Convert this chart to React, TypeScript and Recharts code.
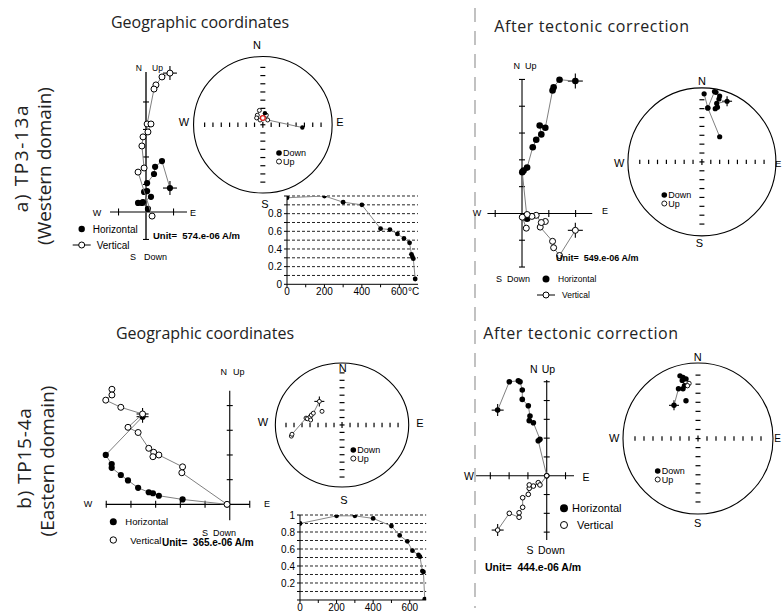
import React from 'react';
import {
  ScatterChart,
  Scatter,
  XAxis,
  YAxis,
  ReferenceLine,
  ReferenceDot,
  LineChart,
  Line,
} from 'recharts';

type Pt = { x: number; y: number };
type NetPt = { x: number; y: number; down: boolean };

// ============================================================================
// Data: Zijderveld values in axis-tick units, stereonet values in radius units
// ============================================================================

// a) TP3-13a, geographic coordinates
const aGeoHoriz: Pt[] = [
  { x: 0.87, y: 0.87 },
  { x: 0.58, y: 1.85 },
  { x: 0.33, y: 1.64 },
  { x: 0.29, y: 1.38 },
  { x: 0.04, y: 1.05 },
  { x: -0.07, y: 0.73 },
  { x: 0.04, y: 0.76 },
  { x: 0.18, y: 0.55 },
  { x: -0.11, y: 0.36 },
  { x: -0.29, y: 0.33 },
  { x: -0.15, y: 0.33 },
  { x: 0.07, y: 0.11 },
];
const aGeoVert: Pt[] = [
  { x: 0.87, y: 5.05 },
  { x: 0.58, y: 4.91 },
  { x: 0.36, y: 4.62 },
  { x: 0.29, y: 4.47 },
  { x: 0.04, y: 3.2 },
  { x: 0.18, y: 3.2 },
  { x: 0.07, y: 2.91 },
  { x: -0.11, y: 2.73 },
  { x: -0.15, y: 2.4 },
  { x: -0.07, y: 1.6 },
  { x: -0.29, y: 1.45 },
  { x: 0.22, y: -0.15 },
];
const aGeoXTicks = [-1, 1];
const aGeoYTicks = [-1, 1, 2, 3, 4];

// a) TP3-13a, after tectonic correction
const aTiltHoriz: Pt[] = [
  { x: 1.99, y: 4.94 },
  { x: 1.4, y: 4.99 },
  { x: 1.18, y: 4.71 },
  { x: 1.14, y: 4.59 },
  { x: 0.87, y: 3.2 },
  { x: 0.66, y: 3.28 },
  { x: 0.72, y: 2.95 },
  { x: 0.53, y: 2.75 },
  { x: 0.4, y: 2.47 },
  { x: 0.19, y: 1.71 },
  { x: 0.06, y: 1.6 },
  { x: 0.01, y: 1.54 },
  { x: 0.19, y: -0.2 },
];
const aTiltVert: Pt[] = [
  { x: 1.99, y: -0.63 },
  { x: 1.4, y: -1.57 },
  { x: 1.18, y: -1.28 },
  { x: 1.14, y: -1.04 },
  { x: 0.68, y: -0.51 },
  { x: 0.87, y: -0.3 },
  { x: 0.72, y: -0.34 },
  { x: 0.53, y: -0.07 },
  { x: 0.37, y: -0.11 },
  { x: 0.19, y: -0.04 },
  { x: 0.01, y: -0.14 },
  { x: 0.16, y: -0.55 },
];
const aTiltXTicks = [-1, 1, 2];
const aTiltYTicks = [-2, -1, 1, 2, 3, 4, 5];

// b) TP15-4a, geographic coordinates
const bGeoHoriz: Pt[] = [
  { x: -3.53, y: 3.55 },
  { x: -5.02, y: 2.0 },
  { x: -4.78, y: 1.63 },
  { x: -4.78, y: 1.48 },
  { x: -4.41, y: 1.19 },
  { x: -4.12, y: 0.97 },
  { x: -3.71, y: 0.67 },
  { x: -3.28, y: 0.49 },
  { x: -3.11, y: 0.45 },
  { x: -2.87, y: 0.35 },
  { x: -1.91, y: 0.2 },
  { x: -0.11, y: 0 },
];
const bGeoVert: Pt[] = [
  { x: -4.77, y: 4.66 },
  { x: -4.77, y: 4.43 },
  { x: -5.02, y: 4.22 },
  { x: -4.41, y: 3.93 },
  { x: -3.53, y: 3.66 },
  { x: -4.12, y: 3.12 },
  { x: -3.71, y: 2.91 },
  { x: -3.28, y: 2.27 },
  { x: -3.08, y: 2.11 },
  { x: -3.11, y: 1.93 },
  { x: -2.87, y: 2.0 },
  { x: -1.91, y: 1.52 },
  { x: -1.94, y: 1.28 },
  { x: -0.11, y: 0 },
];
const bGeoVertNrm = 4;
const bGeoXTicks = [-5, -4, -3, -2, -1, 0.81];
const bGeoYTicks = [1, 2, 3, 4];

// b) TP15-4a, after tectonic correction
const bTiltHoriz: Pt[] = [
  { x: -2.61, y: 3.49 },
  { x: -1.99, y: 5.0 },
  { x: -1.51, y: 5.05 },
  { x: -1.42, y: 5.0 },
  { x: -1.3, y: 4.56 },
  { x: -1.3, y: 4.06 },
  { x: -0.98, y: 3.72 },
  { x: -0.89, y: 3.18 },
  { x: -0.93, y: 2.93 },
  { x: -0.71, y: 2.82 },
  { x: -0.36, y: 1.94 },
  { x: -0.45, y: 1.86 },
  { x: 0, y: 0 },
];
const bTiltVert: Pt[] = [
  { x: -2.61, y: -2.89 },
  { x: -1.99, y: -2.0 },
  { x: -1.47, y: -2.21 },
  { x: -1.47, y: -1.97 },
  { x: -1.28, y: -1.68 },
  { x: -1.28, y: -1.17 },
  { x: -0.98, y: -0.99 },
  { x: -0.93, y: -0.67 },
  { x: -0.93, y: -0.49 },
  { x: -0.71, y: -0.55 },
  { x: -0.45, y: -0.37 },
  { x: -0.36, y: -0.49 },
  { x: 0, y: 0 },
];
const bTiltXTicks = [-3, -2, -1, 1];
const bTiltYTicks = [-3, -2, -1, 1, 2, 3, 4, 5];

// stereonets (equal area)
const netTicks = [0.12, 0.24, 0.36, 0.48, 0.6, 0.72, 0.84];

const aGeoNetPaths: NetPt[][] = [
  [
    { x: -0.05, y: 0.21, down: false },
    { x: -0.08, y: 0.14, down: false },
    { x: -0.09, y: 0.1, down: false },
    { x: -0.04, y: 0.07, down: false },
    { x: 0.0, y: 0.1, down: false },
    { x: 0.05, y: 0.14, down: false },
    { x: 0.07, y: 0.07, down: false },
    { x: 0.57, y: -0.04, down: true },
  ],
];
const aGeoNetLoose: NetPt[] = [{ x: 0.03, y: 0.17, down: true }];
const aGeoNetRed: Pt[] = [{ x: 0.0, y: 0.1 }];

const aTiltNetPaths: NetPt[][] = [
  [
    { x: 0.24, y: 0.34, down: true },
    { x: 0.08, y: 0.73, down: true },
    { x: 0.03, y: 0.92, down: true },
  ],
  [
    { x: 0.34, y: 0.82, down: true },
    { x: 0.2, y: 0.79, down: true },
    { x: 0.21, y: 0.74, down: true },
    { x: 0.18, y: 0.72, down: true },
    { x: 0.23, y: 0.85, down: true },
    { x: 0.24, y: 0.89, down: true },
    { x: 0.19, y: 0.94, down: true },
    { x: 0.17, y: 0.95, down: true },
    { x: 0.08, y: 0.73, down: true },
  ],
];
const aTiltNetCross: Pt[] = [{ x: 0.34, y: 0.82 }];

const bGeoNetPaths: NetPt[][] = [
  [
    { x: -0.76, y: -0.18, down: false },
    { x: -0.75, y: -0.15, down: false },
    { x: -0.54, y: 0.11, down: false },
    { x: -0.52, y: 0.1, down: false },
    { x: -0.48, y: 0.13, down: false },
    { x: -0.47, y: 0.08, down: false },
    { x: -0.46, y: 0.16, down: false },
    { x: -0.43, y: 0.19, down: false },
    { x: -0.34, y: 0.38, down: false },
  ],
];
const bGeoNetLoose: NetPt[] = [{ x: -0.3, y: 0.22, down: false }];
const bGeoNetCross: Pt[] = [{ x: -0.34, y: 0.38 }];

const bTiltNetPaths: NetPt[][] = [
  [
    { x: -0.32, y: 0.44, down: true },
    { x: -0.26, y: 0.66, down: true },
    { x: -0.2, y: 0.66, down: true },
    { x: -0.18, y: 0.7, down: true },
    { x: -0.21, y: 0.77, down: true },
    { x: -0.24, y: 0.83, down: true },
    { x: -0.2, y: 0.81, down: true },
    { x: -0.16, y: 0.79, down: true },
    { x: -0.12, y: 0.73, down: false },
    { x: -0.14, y: 0.7, down: false },
  ],
];
const bTiltNetLoose: NetPt[] = [{ x: -0.16, y: 0.5, down: true }];
const bTiltNetCross: Pt[] = [{ x: -0.32, y: 0.44 }];

// normalised intensity vs. temperature
const aDemagTemp = [0, 200, 300, 400, 500, 550, 590, 625, 655, 665, 670, 675, 685];
const aDemagM = [0.98, 1.0, 0.93, 0.9, 0.63, 0.62, 0.57, 0.52, 0.47, 0.34, 0.31, 0.29, 0.06];
const bDemagTemp = [0, 200, 300, 400, 500, 545, 587, 615, 648, 656, 669, 675, 682];
const bDemagM = [0.9, 0.99, 0.99, 0.96, 0.87, 0.76, 0.69, 0.58, 0.53, 0.51, 0.34, 0.33, 0.01];
const tempTicks = [0, 100, 200, 300, 400, 500, 600];
const intensityTicks = [0, 0.1, 0.2, 0.3, 0.4, 0.5, 0.6, 0.7, 0.8, 0.9, 1];
const gridLevels = [0.1, 0.2, 0.3, 0.4, 0.5, 0.6, 0.7, 0.8, 0.9, 1];

const FONT = '"Liberation Sans", Arial, Helvetica, sans-serif';
const TFONT = '"Open Sans", "Noto Sans", sans-serif';

// ============================================================================
// Zijderveld diagram
// ============================================================================

interface ZijProps {
  ox: number;
  oy: number;
  s: number;
  xExt: [number, number];
  yExt: [number, number];
  xTicks: number[];
  yTicks: number[];
  horiz: Pt[];
  vert: Pt[];
  vNrm?: number;
  dotR: number;
  openR: number;
  arm: number;
  vAxisColor?: string;
  vAxisWidth?: number;
}

function Zijderveld(p: ZijProps) {
  const pad = 0.8;
  const x0 = p.xExt[0] - pad;
  const x1 = p.xExt[1] + pad;
  const y0 = p.yExt[0] - pad;
  const y1 = p.yExt[1] + pad;

  const cross = (q: any) => (
    <g>
      <line x1={q.cx - p.arm} x2={q.cx + p.arm} y1={q.cy} y2={q.cy} stroke="#000" strokeWidth={1.1} />
      <line x1={q.cx} x2={q.cx} y1={q.cy - p.arm} y2={q.cy + p.arm} stroke="#000" strokeWidth={1.1} />
    </g>
  );

  return (
    <div style={{ position: 'absolute', left: p.ox + x0 * p.s, top: p.oy - y1 * p.s }}>
      <ScatterChart
        width={(x1 - x0) * p.s}
        height={(y1 - y0) * p.s}
        margin={{ top: 0, right: 0, bottom: 0, left: 0 }}
      >
        <XAxis type="number" dataKey="x" domain={[x0, x1]} hide />
        <YAxis type="number" dataKey="y" domain={[y0, y1]} hide />
        <ReferenceLine
          segment={[{ x: p.xExt[0], y: 0 }, { x: p.xExt[1], y: 0 }]}
          stroke="#000"
          strokeWidth={1.1}
        />
        <ReferenceLine
          segment={[{ x: 0, y: p.yExt[0] }, { x: 0, y: p.yExt[1] }]}
          stroke={p.vAxisColor ?? '#000'}
          strokeWidth={p.vAxisWidth ?? 1.1}
        />
        <Scatter
          data={p.xTicks.map((x) => ({ x, y: 0 }))}
          isAnimationActive={false}
          shape={(q: any) => (
            <line x1={q.cx} x2={q.cx} y1={q.cy - 3.5} y2={q.cy + 3.5} stroke="#000" strokeWidth={1.1} />
          )}
        />
        <Scatter
          data={p.yTicks.map((y) => ({ x: 0, y }))}
          isAnimationActive={false}
          shape={(q: any) => (
            <line x1={q.cx - 3} x2={q.cx + 3} y1={q.cy} y2={q.cy} stroke="#000" strokeWidth={1.1} />
          )}
        />
        <Scatter data={[p.horiz[0]]} isAnimationActive={false} shape={cross} />
        <Scatter
          name="Horizontal"
          data={p.horiz}
          isAnimationActive={false}
          line={{ stroke: '#808080', strokeWidth: 1 }}
          shape={(q: any) => <circle cx={q.cx} cy={q.cy} r={p.dotR} fill="#000" />}
        />
        <Scatter data={[p.vert[p.vNrm ?? 0]]} isAnimationActive={false} shape={cross} />
        <Scatter
          name="Vertical"
          data={p.vert}
          isAnimationActive={false}
          line={{ stroke: '#808080', strokeWidth: 1 }}
          shape={(q: any) => (
            <circle cx={q.cx} cy={q.cy} r={p.openR} fill="#fff" stroke="#000" strokeWidth={1} />
          )}
        />
      </ScatterChart>
    </div>
  );
}

// ============================================================================
// Equal-area stereonet
// ============================================================================

interface NetProps {
  cx: number;
  cy: number;
  rx: number;
  ry: number;
  paths: NetPt[][];
  loose: NetPt[];
  crossAt?: Pt[];
  red?: Pt[];
  dotR: number;
  openR: number;
}

function Stereonet(p: NetProps) {
  const k = 1.08;
  const mark = (q: any) =>
    q.payload.down ? (
      <circle cx={q.cx} cy={q.cy} r={p.dotR} fill="#000" />
    ) : (
      <circle cx={q.cx} cy={q.cy} r={p.openR} fill="#fff" stroke="#000" strokeWidth={0.9} />
    );

  return (
    <div style={{ position: 'absolute', left: p.cx - p.rx * k, top: p.cy - p.ry * k }}>
      <ScatterChart
        width={2 * p.rx * k}
        height={2 * p.ry * k}
        margin={{ top: 0, right: 0, bottom: 0, left: 0 }}
      >
        <XAxis type="number" dataKey="x" domain={[-k, k]} hide />
        <YAxis type="number" dataKey="y" domain={[-k, k]} hide />
        <ReferenceDot
          x={0}
          y={0}
          shape={(q: any) => (
            <ellipse cx={q.cx} cy={q.cy} rx={p.rx} ry={p.ry} fill="none" stroke="#000" strokeWidth={1.1} />
          )}
        />
        <Scatter
          data={netTicks.flatMap((t) => [{ x: t, y: 0 }, { x: -t, y: 0 }])}
          isAnimationActive={false}
          shape={(q: any) => (
            <line x1={q.cx} x2={q.cx} y1={q.cy - 2.2} y2={q.cy + 2.2} stroke="#000" strokeWidth={1.2} />
          )}
        />
        <Scatter
          data={netTicks.flatMap((t) => [{ x: 0, y: t }, { x: 0, y: -t }])}
          isAnimationActive={false}
          shape={(q: any) => (
            <line x1={q.cx - 2.5} x2={q.cx + 2.5} y1={q.cy} y2={q.cy} stroke="#000" strokeWidth={1.2} />
          )}
        />
        <Scatter
          data={[{ x: 0, y: 0 }]}
          isAnimationActive={false}
          shape={(q: any) => (
            <g>
              <line x1={q.cx - 2.5} x2={q.cx + 2.5} y1={q.cy} y2={q.cy} stroke="#000" strokeWidth={1.2} />
              <line x1={q.cx} x2={q.cx} y1={q.cy - 3} y2={q.cy + 3} stroke="#000" strokeWidth={1.2} />
            </g>
          )}
        />
        {(p.crossAt ?? []).length > 0 && (
          <Scatter
            data={p.crossAt}
            isAnimationActive={false}
            shape={(q: any) => (
              <g>
                <line x1={q.cx - 5} x2={q.cx + 5} y1={q.cy} y2={q.cy} stroke="#000" strokeWidth={1.1} />
                <line x1={q.cx} x2={q.cx} y1={q.cy - 5} y2={q.cy + 5} stroke="#000" strokeWidth={1.1} />
              </g>
            )}
          />
        )}
        {p.paths.map((path, i) => (
          <Scatter
            key={i}
            data={path}
            isAnimationActive={false}
            line={{ stroke: '#808080', strokeWidth: 1 }}
            shape={mark}
          />
        ))}
        <Scatter data={p.loose} isAnimationActive={false} shape={mark} />
        {(p.red ?? []).length > 0 && (
          <Scatter
            data={p.red}
            isAnimationActive={false}
            shape={(q: any) => (
              <circle cx={q.cx} cy={q.cy} r={2.4} fill="#fff" stroke="#e0201b" strokeWidth={1.3} />
            )}
          />
        )}
      </ScatterChart>
    </div>
  );
}

// ============================================================================
// Demagnetisation curve
// ============================================================================

interface DemagProps {
  left: number;
  top: number;
  plotW: number;
  plotH: number;
  tMax: number;
  temps: number[];
  values: number[];
  showZero: boolean;
}

function DemagCurve(p: DemagProps) {
  const data = p.temps.map((t, i) => ({ t, m: p.values[i] }));
  const yLabel = (v: number) => {
    const tenths = Math.round(v * 10);
    if (tenths % 2 !== 0) return '';
    if (v === 0) return p.showZero ? '0' : '';
    if (v === 1) return p.showZero ? '' : '1';
    return String(v);
  };
  return (
    <div style={{ position: 'absolute', left: p.left - 30, top: p.top - 6 }}>
      <LineChart
        width={30 + p.plotW + 8}
        height={6 + p.plotH + 20}
        data={data}
        margin={{ top: 6, right: 8, bottom: 0, left: 0 }}
      >
        {gridLevels.map((g) => (
          <ReferenceLine key={g} y={g} stroke="#222" strokeWidth={1} strokeDasharray="3 2" />
        ))}
        <XAxis
          type="number"
          dataKey="t"
          domain={[0, p.tMax]}
          ticks={tempTicks}
          interval={0}
          tickFormatter={(v: number) => (v % 200 === 0 ? String(v) : '')}
          tick={{ fontSize: 10, fill: '#000', fontFamily: FONT }}
          tickSize={3}
          tickMargin={1}
          axisLine={{ stroke: '#000' }}
          tickLine={{ stroke: '#000' }}
          height={20}
          allowDataOverflow
        />
        <YAxis
          type="number"
          domain={[0, 1]}
          ticks={intensityTicks}
          interval={0}
          tickFormatter={yLabel}
          tick={{ fontSize: 10, fill: '#000', fontFamily: FONT }}
          tickSize={3}
          tickMargin={2}
          axisLine={{ stroke: '#000' }}
          tickLine={{ stroke: '#000' }}
          width={30}
          allowDataOverflow
        />
        <Line
          type="linear"
          dataKey="m"
          stroke="#888"
          strokeWidth={1}
          dot={{ r: 2.4, fill: '#000', stroke: '#000', strokeWidth: 0 }}
          isAnimationActive={false}
        />
      </LineChart>
    </div>
  );
}

// ============================================================================
// Labels
// ============================================================================

function Txt({
  x,
  y,
  size,
  children,
  anchor = 'middle',
  bold = false,
  font = FONT,
}: {
  x: number;
  y: number;
  size: number;
  children: React.ReactNode;
  anchor?: 'start' | 'middle' | 'end';
  bold?: boolean;
  font?: string;
}) {
  return (
    <text
      x={x}
      y={y}
      fontSize={size}
      fontFamily={font}
      fontWeight={bold ? 700 : 400}
      textAnchor={anchor}
      dominantBaseline="central"
      fill="#000"
      style={{ whiteSpace: 'pre' }}
    >
      {children}
    </text>
  );
}

function Title({
  x,
  y,
  spacing = 0,
  children,
}: {
  x: number;
  y: number;
  spacing?: number;
  children: React.ReactNode;
}) {
  return (
    <text
      x={x}
      y={y}
      fontSize={16}
      fontFamily={TFONT}
      textAnchor="middle"
      fill="#222"
      letterSpacing={spacing}
    >
      {children}
    </text>
  );
}

function SideLabel({
  x,
  y,
  spacing = 0,
  children,
}: {
  x: number;
  y: number;
  spacing?: number;
  children: React.ReactNode;
}) {
  return (
    <text
      transform={`translate(${x},${y}) rotate(-90)`}
      fontSize={19}
      fontFamily={TFONT}
      textAnchor="middle"
      dominantBaseline="central"
      letterSpacing={spacing}
      fill="#222"
    >
      {children}
    </text>
  );
}

function ZijLegend({
  x,
  y1,
  y2,
  size,
  dotR,
  openR,
  gap,
  withLine,
}: {
  x: number;
  y1: number;
  y2: number;
  size: number;
  dotR: number;
  openR: number;
  gap: number;
  withLine: boolean;
}) {
  return (
    <g>
      <circle cx={x} cy={y1} r={dotR} fill="#000" />
      <Txt x={x + gap} y={y1} size={size} anchor="start">
        Horizontal
      </Txt>
      {withLine && <line x1={x - 9} x2={x + 9} y1={y2} y2={y2} stroke="#000" strokeWidth={1} />}
      <circle cx={x} cy={y2} r={openR} fill="#fff" stroke="#000" strokeWidth={1} />
      <Txt x={x + gap + (withLine ? 4 : 5)} y={y2} size={size} anchor="start">
        Vertical
      </Txt>
    </g>
  );
}

function NetLegend({ x, y }: { x: number; y: number }) {
  return (
    <g>
      <circle cx={x} cy={y} r={2.8} fill="#000" />
      <Txt x={x + 4} y={y} size={9} anchor="start">
        Down
      </Txt>
      <circle cx={x} cy={y + 8.5} r={2.5} fill="#fff" stroke="#000" strokeWidth={0.9} />
      <Txt x={x + 4} y={y + 8.5} size={9} anchor="start">
        Up
      </Txt>
    </g>
  );
}

function NetLetters({
  n,
  s,
  w,
  e,
  eSize = 11,
}: {
  n: [number, number];
  s: [number, number];
  w: [number, number];
  e: [number, number];
  eSize?: number;
}) {
  return (
    <g>
      <Txt x={n[0]} y={n[1]} size={11}>N</Txt>
      <Txt x={s[0]} y={s[1]} size={11}>S</Txt>
      <Txt x={w[0]} y={w[1]} size={11}>W</Txt>
      <Txt x={e[0]} y={e[1]} size={eSize}>E</Txt>
    </g>
  );
}

// ============================================================================
// App
// ============================================================================

export default function App() {
  return (
    <div
      style={{
        position: 'absolute',
        left: 0,
        top: 0,
        width: 782,
        height: 612,
        background: '#fff',
        overflow: 'hidden',
      }}
    >
      {/* a) TP3-13a */}
      <Zijderveld
        ox={146}
        oy={212}
        s={27.5}
        xExt={[-1.31, 1.49]}
        yExt={[-1.02, 5.09]}
        xTicks={aGeoXTicks}
        yTicks={aGeoYTicks}
        horiz={aGeoHoriz}
        vert={aGeoVert}
        dotR={3.1}
        openR={3}
        arm={7}
        vAxisColor="#555"
        vAxisWidth={2}
      />
      <Stereonet
        cx={262.5}
        cy={124.3}
        rx={69.3}
        ry={68.3}
        paths={aGeoNetPaths}
        loose={aGeoNetLoose}
        red={aGeoNetRed}
        dotR={2.2}
        openR={2}
      />
      <DemagCurve
        left={287.3}
        top={196}
        plotW={131}
        plotH={88.3}
        tMax={700}
        temps={aDemagTemp}
        values={aDemagM}
        showZero
      />
      <Zijderveld
        ox={521.7}
        oy={213}
        s={26.8}
        xExt={[-1.29, 2.62]}
        yExt={[-2.0, 5.0]}
        xTicks={aTiltXTicks}
        yTicks={aTiltYTicks}
        horiz={aTiltHoriz}
        vert={aTiltVert}
        dotR={3.3}
        openR={3}
        arm={7.5}
      />
      <Stereonet
        cx={702}
        cy={161.5}
        rx={74}
        ry={74}
        paths={aTiltNetPaths}
        loose={[]}
        crossAt={aTiltNetCross}
        dotR={2.6}
        openR={2.2}
      />

      {/* b) TP15-4a */}
      <Zijderveld
        ox={230}
        oy={504.3}
        s={24.7}
        xExt={[-5.02, 0.81]}
        yExt={[-0.64, 4.6]}
        xTicks={bGeoXTicks}
        yTicks={bGeoYTicks}
        horiz={bGeoHoriz}
        vert={bGeoVert}
        vNrm={bGeoVertNrm}
        dotR={3.1}
        openR={3}
        arm={6}
      />
      <Stereonet
        cx={342.2}
        cy={424.5}
        rx={66.7}
        ry={62}
        paths={bGeoNetPaths}
        loose={bGeoNetLoose}
        crossAt={bGeoNetCross}
        dotR={2.2}
        openR={2}
      />
      <DemagCurve
        left={299.5}
        top={515}
        plotW={126.2}
        plotH={85}
        tMax={690}
        temps={bDemagTemp}
        values={bDemagM}
        showZero={false}
      />
      <Zijderveld
        ox={546.7}
        oy={475.7}
        s={18.8}
        xExt={[-3.76, 1.45]}
        yExt={[-3.42, 5.09]}
        xTicks={bTiltXTicks}
        yTicks={bTiltYTicks}
        horiz={bTiltHoriz}
        vert={bTiltVert}
        dotR={2.8}
        openR={2.3}
        arm={6}
      />
      <Stereonet
        cx={698}
        cy={438.8}
        rx={75}
        ry={75.5}
        paths={bTiltNetPaths}
        loose={bTiltNetLoose}
        crossAt={bTiltNetCross}
        dotR={2.7}
        openR={2.2}
      />

      {/* text, legends, divider */}
      <svg
        width={782}
        height={612}
        style={{ position: 'absolute', left: 0, top: 0, pointerEvents: 'none' }}
      >
        <line x1={475} y1={8} x2={475} y2={608} stroke="#999" strokeWidth={1.2} strokeDasharray="14 9" />

        <Title x={200} y={28}>Geographic coordinates</Title>
        <Title x={592} y={32} spacing={0.6}>After tectonic correction</Title>
        <Title x={205} y={339}>Geographic coordinates</Title>
        <Title x={581} y={339} spacing={0.6}>After tectonic correction</Title>

        <SideLabel x={21} y={158} spacing={1.6}>a) TP3-13a</SideLabel>
        <SideLabel x={44} y={166}>(Western domain)</SideLabel>
        <SideLabel x={24} y={458} spacing={0.8}>b) TP15-4a</SideLabel>
        <SideLabel x={47} y={461}>(Eastern domain)</SideLabel>

        {/* a) geographic Zijderveld */}
        <Txt x={142} y={68} size={8.5} anchor="end">N</Txt>
        <Txt x={152} y={68} size={8.5} anchor="start">Up</Txt>
        <Txt x={136} y={257} size={9} anchor="end">S</Txt>
        <Txt x={144} y={257} size={9} anchor="start">Down</Txt>
        <Txt x={97} y={213} size={9}>W</Txt>
        <Txt x={193} y={213} size={9}>E</Txt>
        <ZijLegend x={81.7} y1={229} y2={245} size={10} dotR={3.2} openR={3} gap={11} withLine />
        <Txt x={153} y={235} size={9.5} anchor="start" bold>Unit=  574.e-06 A/m</Txt>

        {/* a) geographic stereonet */}
        <NetLetters n={[257, 45]} s={[265, 204]} w={[184, 122]} e={[340, 122]} />
        <NetLegend x={279} y={153} />
        <Txt x={408} y={291} size={10} anchor="start">°C</Txt>

        {/* a) tilt-corrected Zijderveld */}
        <Txt x={520} y={66} size={9} anchor="end">N</Txt>
        <Txt x={525} y={66} size={9} anchor="start">Up</Txt>
        <Txt x={502} y={279} size={9} anchor="end">S</Txt>
        <Txt x={507} y={279} size={9} anchor="start">Down</Txt>
        <Txt x={477} y={213} size={9}>W</Txt>
        <Txt x={605} y={211} size={9}>E</Txt>
        <ZijLegend x={546} y1={279} y2={295} size={8.5} dotR={3.5} openR={3} gap={12} withLine />
        <Txt x={556} y={258} size={9} anchor="start" bold>Unit=  549.e-06 A/m</Txt>

        {/* a) tilt-corrected stereonet */}
        <NetLetters n={[702, 81]} s={[699.3, 243.3]} w={[619.3, 163.3]} e={[778.2, 163]} eSize={9.5} />
        <NetLegend x={664.3} y={195} />

        {/* b) geographic Zijderveld */}
        <Txt x={227} y={372} size={9} anchor="end">N</Txt>
        <Txt x={233} y={372} size={9} anchor="start">Up</Txt>
        <Txt x={208} y={533} size={9} anchor="end">S</Txt>
        <Txt x={213} y={533} size={9} anchor="start">Down</Txt>
        <Txt x={88} y={503.5} size={9}>W</Txt>
        <Txt x={267} y={504} size={9}>E</Txt>
        <ZijLegend x={113.3} y1={521.7} y2={540} size={9.5} dotR={3.5} openR={3.2} gap={12} withLine={false} />
        <Txt x={162} y={542} size={10} anchor="start" bold>Unit=  365.e-06 A/m</Txt>

        {/* b) geographic stereonet */}
        <NetLetters n={[342.7, 368.3]} s={[344, 500]} w={[263, 422]} e={[420, 422.7]} />
        <NetLegend x={353.3} y={450} />

        {/* b) tilt-corrected Zijderveld */}
        <Txt x={537.5} y={369.3} size={10.5} anchor="end">N</Txt>
        <Txt x={541.7} y={369.3} size={10.5} anchor="start">Up</Txt>
        <Txt x={533.5} y={550} size={10.5} anchor="end">S</Txt>
        <Txt x={538} y={550} size={10.5} anchor="start">Down</Txt>
        <Txt x={469} y={475.7} size={10.5}>W</Txt>
        <Txt x={586} y={477} size={10.5}>E</Txt>
        <ZijLegend x={564} y1={508.3} y2={525} size={11} dotR={4} openR={3.5} gap={8} withLine={false} />
        <Txt x={485} y={567} size={10.5} anchor="start" bold>Unit=  444.e-06 A/m</Txt>

        {/* b) tilt-corrected stereonet */}
        <NetLetters n={[697.7, 356.7]} s={[697.7, 522.7]} w={[614.3, 438.3]} e={[777.5, 438]} eSize={10} />
        <NetLegend x={657.7} y={471} />
      </svg>
    </div>
  );
}
